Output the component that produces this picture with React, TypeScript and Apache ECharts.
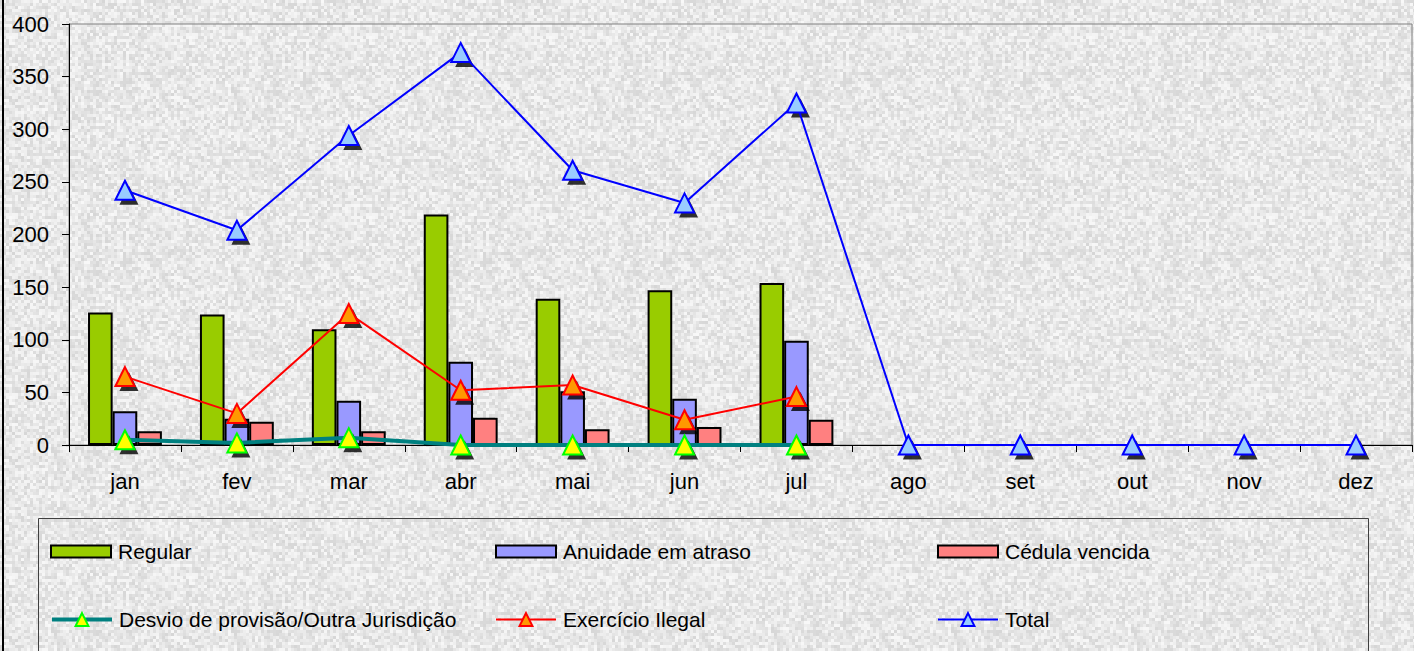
import React, { useEffect, useRef } from "react";
import * as echarts from "echarts";

const months = ["jan", "fev", "mar", "abr", "mai", "jun", "jul", "ago", "set", "out", "nov", "dez"];
const regular = [126, 124, 110, 219, 139, 147, 154, null, null, null, null, null];
const anuidade = [32, 25, 42, 79, 51, 44, 99, null, null, null, null, null];
const cedula = [13, 22, 13, 26, 15, 17, 24, null, null, null, null, null];
const desvio = [5, 2, 7, 0, 0, 0, 0, null, null, null, null, null];
const ilegal = [65, 30, 125, 52, 57, 24, 46, null, null, null, null, null];
const total = [242, 204, 294, 373, 261, 230, 325, 0, 0, 0, 0, 0];
const yTicks = [0, 50, 100, 150, 200, 250, 300, 350, 400];

const FONT = "Liberation Sans, Arial, sans-serif";

function makeTexture(): string {
  const c = document.createElement("canvas");
  const cell = 3;
  const n = 60;
  c.width = n * cell;
  c.height = n * cell;
  const ctx = c.getContext("2d");
  if (!ctx) return "";
  for (let i = 0; i < n; i++) {
    for (let j = 0; j < n; j++) {
      let h = (i * 374761393 + j * 668265263) >>> 0;
      h = ((h ^ (h >>> 13)) * 1274126177) >>> 0;
      h = (h ^ (h >>> 16)) >>> 0;
      const t = (h % 1000) / 1000;
      const g = Math.round(214 + t * 34);
      ctx.fillStyle = `rgb(${g},${g},${g})`;
      ctx.fillRect(i * cell, j * cell, cell, cell);
    }
  }
  return c.toDataURL();
}

export default function App() {
  const ref = useRef<HTMLDivElement>(null);
  useEffect(() => {
    if (!ref.current) return;
    const tex = makeTexture();
    if (tex) ref.current.style.backgroundImage = `url(${tex})`;
    const chart = echarts.init(ref.current, undefined, { renderer: "svg" });

    const lineDefs = [
      { name: "Desvio de provisão/Outra Jurisdição", data: desvio, line: "#008080", width: 4, fill: "#ffff00", border: "#00ff00" },
      { name: "Exercício Ilegal", data: ilegal, line: "#ff0000", width: 2, fill: "#ff9900", border: "#ff0000" },
      { name: "Total", data: total, line: "#0000ff", width: 2, fill: "#99ccff", border: "#0000ff" },
    ];

    const barDefs = [
      { name: "Regular", data: regular, color: "#99cc00" },
      { name: "Anuidade em atraso", data: anuidade, color: "#9999ff" },
      { name: "Cédula vencida", data: cedula, color: "#ff8080" },
    ];

    const series: any[] = [];
    barDefs.forEach((b) => {
      series.push({
        name: b.name,
        type: "bar",
        data: b.data,
        barGap: "0%",
        barCategoryGap: "34%",
        itemStyle: { color: b.color, borderColor: "#000", borderWidth: 2 },
        z: 2,
      });
    });
    lineDefs.forEach((l) => {
      series.push({
        type: "scatter",
        data: l.data,
        symbol: "triangle",
        symbolSize: 19,
        symbolOffset: [4, 5],
        itemStyle: { color: "#000" },
        silent: true,
        z: 3,
      });
    });
    lineDefs.forEach((l) => {
      series.push({
        name: l.name,
        type: "line",
        data: l.data,
        symbol: "triangle",
        symbolSize: 19,
        showSymbol: true,
        lineStyle: { color: l.line, width: l.width },
        itemStyle: { color: l.fill, borderColor: l.border, borderWidth: 2 },
        z: 4,
      });
    });

    const legendPos = [
      { name: "Regular", left: 50, top: 552, h: 12, lw: 0 },
      { name: "Anuidade em atraso", left: 495, top: 552, h: 12, lw: 0 },
      { name: "Cédula vencida", left: 937, top: 552, h: 12, lw: 0 },
      { name: "Desvio de provisão/Outra Jurisdição", left: 50, top: 620, h: 16, lw: 4 },
      { name: "Exercício Ilegal", left: 495, top: 620, h: 16, lw: 2 },
      { name: "Total", left: 937, top: 620, h: 16, lw: 2 },
    ];

    chart.setOption({
      animation: false,
      backgroundColor: "transparent",
      grid: {
        left: 69,
        right: 2,
        top: 24,
        bottom: 651 - 445,
        show: true,
        borderColor: "#808080",
        borderWidth: 1,
        backgroundColor: "transparent",
      },
      xAxis: {
        type: "category",
        data: months,
        boundaryGap: true,
        axisLine: { lineStyle: { color: "#000", width: 1 } },
        axisTick: { show: true, length: 7, lineStyle: { color: "#000" } },
        axisLabel: { fontSize: 22, color: "#000", fontFamily: FONT, margin: 25 },
      },
      yAxis: {
        type: "value",
        min: yTicks[0],
        max: yTicks[yTicks.length - 1],
        interval: 50,
        axisLine: { show: true, lineStyle: { color: "#000", width: 1 } },
        axisTick: { show: true, length: 7, lineStyle: { color: "#000" } },
        splitLine: { show: false },
        axisLabel: { fontSize: 22, color: "#000", fontFamily: FONT, margin: 20 },
      },
      legend: legendPos.map((p) => {
        const lg: any = {
          data: [p.name],
          left: p.left,
          top: p.top - 11,
          padding: 0,
          itemWidth: 60,
          itemHeight: p.h,
          itemGap: 0,
          selectedMode: false,
          textStyle: { fontSize: 21, color: "#000", fontFamily: FONT, padding: [0, 0, 0, 2] },
        };
        if (p.lw === 0) lg.icon = "rect";
        else lg.lineStyle = { width: p.lw };
        return lg;
      }),
      graphic: [
        {
          type: "rect",
          shape: { x: 38.5, y: 518.5, width: 1330, height: 200 },
          style: { fill: "none", stroke: "#404040", lineWidth: 1 },
          silent: true,
          z: -1,
        },
        {
          type: "rect",
          shape: { x: 3, y: -10, width: 1430, height: 700 },
          style: { fill: "none", stroke: "#000", lineWidth: 2 },
          silent: true,
          z: -1,
        },
      ],
      series,
    });
    return () => chart.dispose();
  }, []);
  return (
    <div
      ref={ref}
      style={{ position: "absolute", left: 0, top: 0, width: 1414, height: 651, backgroundColor: "#e4e4e4" }}
    />
  );
}
